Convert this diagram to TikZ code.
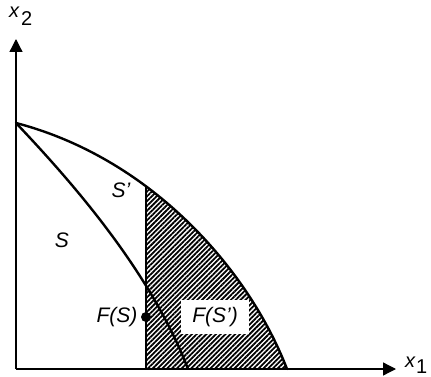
\documentclass[tikz,border=0pt]{standalone}
\usepackage{fontspec}
\setmainfont{Liberation Sans}
\usetikzlibrary{patterns.meta,arrows.meta}
\begin{document}
\begin{tikzpicture}[x=1pt,y=-1pt,
  lbl/.style={inner sep=0pt,font=\fontsize{21}{23}\selectfont\itshape},
  axlbl/.style={inner sep=0pt,anchor=west,font=\fontsize{20}{22}\selectfont},
  axis/.style={line width=1.3pt,-{Triangle[length=13pt,width=13pt]}},
  curve/.style={line width=2.4pt},
  hatch/.style={pattern={Lines[angle=45,distance=3.4pt,line width=1.8pt]}},
]
\useasboundingbox (0,0) rectangle (431,377);
\coordinate (O) at (16,369);
\coordinate (A) at (16,123);
\coordinate (C) at (287,369);
\coordinate (D) at (188,369);
\coordinate (V0) at (146,369);
\coordinate (V1) at (146,100);
\coordinate (Xe) at (396,369);
\coordinate (Ye) at (16,39);
% hatched region F(S')
\begin{scope}
  \clip (146,0) rectangle (431,377);
  \fill[hatch] (A) .. controls (150,158) and (248,268) .. (C) -- (O) -- cycle;
\end{scope}
% vertical line, up to the outer curve
\begin{scope}
  \clip (A) .. controls (150,158) and (248,268) .. (C) -- (O) -- cycle;
  \draw[line width=2.6pt] (V0) -- (V1);
\end{scope}
% curves
\draw[curve,line cap=round] (A) .. controls (150,158) and (248,268) .. (C);
\draw[curve] (A) .. controls (70,180) and (150,270) .. (D);
% axes
\draw[axis] (O) -- (Xe);
\draw[axis] (O) -- (Ye);
% labels
\node[axlbl] (x1) at (405,365) {\itshape x\kern1pt\raisebox{-6pt}{\upshape 1}};
\node[axlbl] (x2) at (9,16) {\itshape x\kern2pt\raisebox{-8pt}{\upshape 2}};
\node[lbl] (S) at (62,240) {S};
\node[lbl] (Sp) at (121,190) {S'};
\node[lbl] (FS) at (117,317) {F(S)};
\node[circle,fill=black,inner sep=0pt,minimum size=10pt] (dot) at (146,317) {};
\node[lbl,fill=white,minimum width=68pt,minimum height=34pt] (FSp) at (215,317) {F(S')};
\end{tikzpicture}
\end{document}
